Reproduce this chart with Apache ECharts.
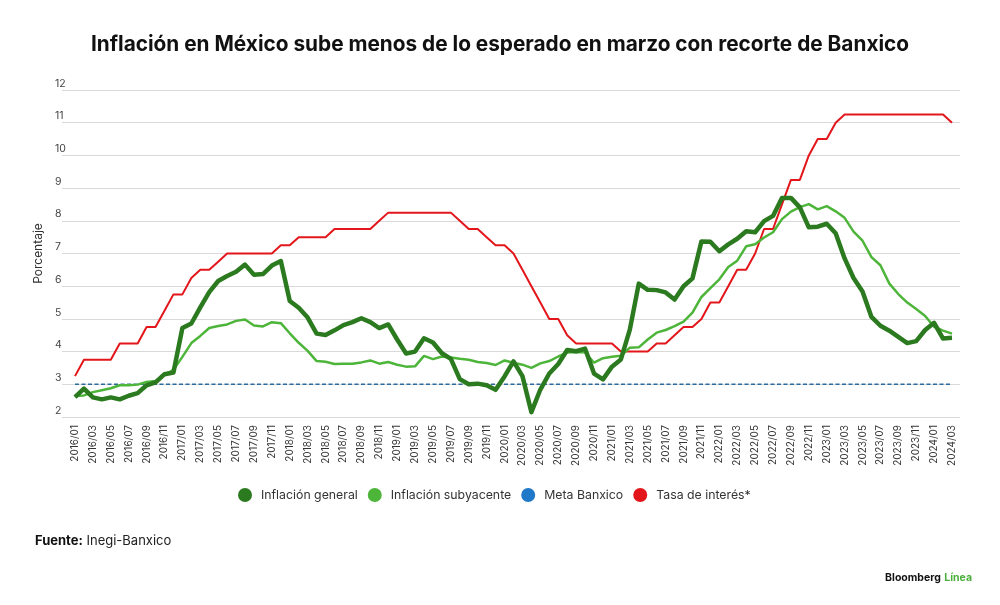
<!DOCTYPE html>
<html>
<head>
<meta charset="utf-8">
<script src="https://cdn.jsdelivr.net/npm/echarts@6/dist/echarts.min.js"></script>
<style>
html,body{margin:0;padding:0;background:#fff;}
#chart{width:1000px;height:605px;}
</style>
</head>
<body>
<div id="chart"></div>
<script>
// ---- Data ----
var months = [];
(function(){
  for (var y = 2016; y <= 2024; y++) {
    for (var m = 1; m <= 12; m++) {
      if (y === 2024 && m > 3) break;
      months.push(y + '/' + (m < 10 ? '0' + m : m));
    }
  }
})();

var inflacionGeneral = [
  2.61,2.87,2.60,2.54,2.60,2.54,2.65,2.73,2.97,3.06,3.31,3.36,
  4.72,4.86,5.35,5.82,6.16,6.31,6.44,6.66,6.35,6.37,6.63,6.77,
  5.55,5.34,5.04,4.55,4.51,4.65,4.81,4.90,5.02,4.90,4.72,4.83,
  4.37,3.94,4.00,4.41,4.28,3.95,3.78,3.16,3.00,3.02,2.97,2.83,
  3.24,3.70,3.25,2.15,2.84,3.33,3.62,4.05,4.01,4.09,3.33,3.15,
  3.54,3.76,4.67,6.08,5.89,5.88,5.81,5.59,6.00,6.24,7.37,7.36,
  7.07,7.28,7.45,7.68,7.65,7.99,8.15,8.70,8.70,8.41,7.80,7.82,
  7.91,7.62,6.85,6.25,5.84,5.06,4.79,4.64,4.45,4.26,4.32,4.66,
  4.88,4.40,4.42
];

var inflacionSubyacente = [
  2.64,2.66,2.76,2.82,2.88,2.97,2.97,2.99,3.07,3.10,3.29,3.44,
  3.84,4.26,4.48,4.72,4.78,4.83,4.94,4.98,4.80,4.77,4.90,4.87,
  4.56,4.27,4.02,3.71,3.69,3.62,3.63,3.63,3.67,3.73,3.63,3.68,
  3.60,3.54,3.55,3.87,3.77,3.85,3.82,3.78,3.75,3.68,3.65,3.59,
  3.73,3.66,3.60,3.50,3.64,3.71,3.85,3.97,3.99,3.98,3.66,3.80,
  3.84,3.87,4.12,4.13,4.37,4.58,4.66,4.78,4.92,5.19,5.67,5.94,
  6.21,6.59,6.78,7.22,7.28,7.49,7.65,8.05,8.28,8.42,8.51,8.35,
  8.45,8.29,8.09,7.67,7.39,6.89,6.64,6.08,5.76,5.50,5.30,5.09,
  4.76,4.64,4.55
];

var metaBanxico = 3;

var tasaInteres = [
  3.25,3.75,3.75,3.75,3.75,4.25,4.25,4.25,4.75,4.75,5.25,5.75,
  5.75,6.25,6.50,6.50,6.75,7.00,7.00,7.00,7.00,7.00,7.00,7.25,
  7.25,7.50,7.50,7.50,7.50,7.75,7.75,7.75,7.75,7.75,8.00,8.25,
  8.25,8.25,8.25,8.25,8.25,8.25,8.25,8.00,7.75,7.75,7.50,7.25,
  7.25,7.00,6.50,6.00,5.50,5.00,5.00,4.50,4.25,4.25,4.25,4.25,
  4.25,4.00,4.00,4.00,4.00,4.25,4.25,4.50,4.75,4.75,5.00,5.50,
  5.50,6.00,6.50,6.50,7.00,7.75,7.75,8.50,9.25,9.25,10.00,10.50,
  10.50,11.00,11.25,11.25,11.25,11.25,11.25,11.25,11.25,11.25,11.25,11.25,
  11.25,11.25,11.00
];

var yTicks = [2,3,4,5,6,7,8,9,10,11,12];

var names = ['Inflación general','Inflación subyacente','Meta Banxico','Tasa de interés*'];
var colors = ['#2b7a1f','#4db53a','#1f78c8','#e3161b'];

var metaSeries = months.map(function(){ return metaBanxico; });

var chart = echarts.init(document.getElementById('chart'), null, {renderer:'canvas'});
var font = 'Inter, "Liberation Sans", Arial, sans-serif';

chart.setOption({
  backgroundColor: '#ffffff',
  animation: false,
  textStyle: { fontFamily: font },
  title: {
    text: 'Inflación en México sube menos de lo esperado en marzo con recorte de Banxico',
    left: 'center', top: 29,
    textStyle: { fontSize: 20.8, fontWeight: 'bold', color: '#111', fontFamily: font }
  },
  legend: {
    top: 483, left: 233,
    icon: 'circle', itemWidth: 14, itemHeight: 14, itemGap: 10,
    textStyle: { fontSize: 12.3, color: '#333', fontFamily: font, padding: [0,0,0,4] },
    data: names.map(function(n, i){ return { name: n, itemStyle: { color: colors[i] } }; })
  },
  grid: [
    { left: 75, right: 48, top: 90, bottom: 188 },
    { left: 62, right: 40, top: 90, bottom: 188 }
  ],
  xAxis: [
    {
      type: 'category', gridIndex: 0, data: months, boundaryGap: false,
      axisLine: { show: false }, axisTick: { show: false },
      axisLabel: { interval: 1, rotate: 90, fontSize: 10, color: '#333', margin: 8, fontFamily: font }
    },
    { type: 'value', gridIndex: 1, show: false, min: 0, max: 1 }
  ],
  yAxis: [
    { type: 'value', gridIndex: 0, min: 2, max: 12, interval: 1, show: false },
    {
      type: 'value', gridIndex: 1, min: 2, max: 12, interval: 1,
      name: 'Porcentaje', nameLocation: 'middle', nameRotate: 90, nameGap: 14,
      nameTextStyle: { fontSize: 12, color: '#333', fontFamily: font },
      axisLine: { show: false }, axisTick: { show: false },
      axisLabel: { align: 'left', verticalAlign: 'bottom', margin: 7, fontSize: 10.5, color: '#444',
                   padding: [0,0,1,0], fontFamily: font },
      splitLine: { lineStyle: { color: '#d9d9d9', width: 1 } }
    }
  ],
  series: [
    {
      name: names[3], type: 'line', xAxisIndex: 0, yAxisIndex: 0, data: tasaInteres,
      symbol: 'none', lineStyle: { color: colors[3], width: 2 }, itemStyle: { color: colors[3] }, z: 3
    },
    {
      name: names[2], type: 'line', xAxisIndex: 0, yAxisIndex: 0, data: metaSeries,
      symbol: 'none', lineStyle: { color: '#2a6aa0', width: 1.5, type: [4, 2.5] }, itemStyle: { color: colors[2] }, z: 2
    },
    {
      name: names[1], type: 'line', xAxisIndex: 0, yAxisIndex: 0, data: inflacionSubyacente,
      symbol: 'none', lineStyle: { color: colors[1], width: 2.5 }, itemStyle: { color: colors[1] }, z: 4
    },
    {
      name: names[0], type: 'line', xAxisIndex: 0, yAxisIndex: 0, data: inflacionGeneral,
      symbol: 'none', lineStyle: { color: colors[0], width: 4.5, join: 'round' }, itemStyle: { color: colors[0] }, z: 5
    }
  ],
  graphic: [
    {
      type: 'text', left: 35, top: 535,
      style: {
        text: '{b|Fuente:} Inegi-Banxico',
        rich: { b: { fontWeight: 'bold', fontSize: 13, fill: '#111', fontFamily: font } },
        fontSize: 13, fill: '#222', fontFamily: font
      }
    },
    {
      type: 'text', right: 28, top: 572,
      style: {
        text: '{a|Bloomberg} {g|Línea}',
        rich: {
          a: { fontWeight: 'bold', fontSize: 10.5, fill: '#111', fontFamily: font },
          g: { fontWeight: 'bold', fontSize: 10.5, fill: '#4cae3c', fontFamily: font }
        }
      }
    }
  ]
});
</script>
</body>
</html>
